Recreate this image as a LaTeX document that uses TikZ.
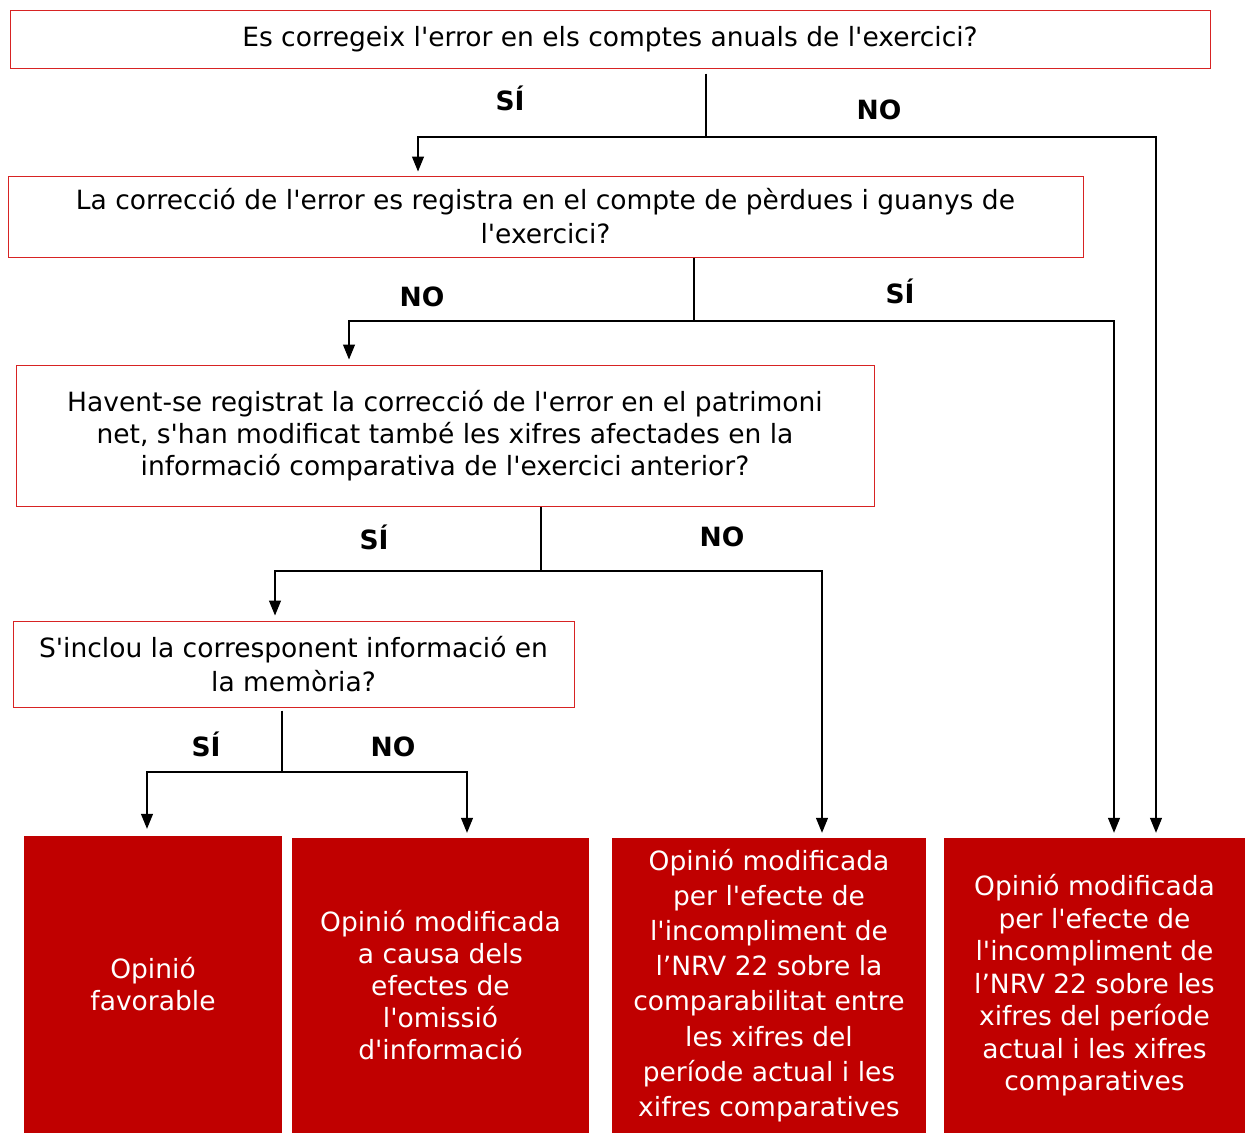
\documentclass[tikz,border=0pt]{standalone}
\usepackage{fontspec}
\setmainfont{DejaVu Sans}[Ligatures=TeXOff]
\usetikzlibrary{arrows.meta, positioning}

\definecolor{boxred}{RGB}{215,35,35}
\definecolor{optred}{RGB}{192,0,0}

\tikzset{
  qbox/.style={draw=boxred, line width=1pt, align=center, inner sep=0pt,
    font=\fontsize{26.5}{32}\selectfont},
  obox/.style={fill=optred, text=white, align=center, inner sep=0pt,
    font=\fontsize{26.5}{32}\selectfont},
  lbl/.style={font=\fontsize{26.5}{30}\selectfont\bfseries, text height=19.3pt, text depth=0pt, inner sep=0pt},
  link/.style={line width=1.2pt},
  arr/.style={link, -{Triangle[length=15pt,width=12pt]}},
}

\begin{document}
\begin{tikzpicture}[x=1pt, y=-1pt]
\useasboundingbox (0,0) rectangle (1245,1133);

% Questions
\node[qbox, minimum width=1200pt, minimum height=58pt] (q1) at (610,39)
  {Es corregeix l'error en els comptes anuals de l'exercici?};
\node[qbox, minimum width=1075pt, minimum height=81pt, font=\fontsize{26.5}{34}\selectfont] (q2) at (545.5,216.5)
  {La correcció de l'error es registra en el compte de pèrdues i guanys de\\ l'exercici?};
\node[qbox, minimum width=858pt, minimum height=141pt] (q3) at (445,435.5)
  {Havent-se registrat la correcció de l'error en el patrimoni\\ net, s'han modificat també les xifres afectades en la\\ informació comparativa de l'exercici anterior?};
\node[qbox, minimum width=561pt, minimum height=86pt, font=\fontsize{26.5}{34}\selectfont] (q4) at (293.5,664)
  {S'inclou la corresponent informació en\\ la memòria?};

% Opinions
\node[obox, minimum width=258pt, minimum height=297pt] (oA) at (153,984.5)
  {Opinió\\ favorable};
\node[obox, minimum width=297pt, minimum height=295pt] (oB) at (440.5,985.5)
  {Opinió modificada\\ a causa dels\\ efectes de\\ l'omissió\\ d'informació};
\node[obox, minimum width=314pt, minimum height=295pt, font=\fontsize{26.5}{35.2}\selectfont] (oC) at (769,985.5)
  {Opinió modificada\\ per l'efecte de\\ l'incompliment de\\ l’NRV 22 sobre la\\ comparabilitat entre\\ les xifres del\\ període actual i les\\ xifres comparatives};
\node[obox, minimum width=301pt, minimum height=295pt, font=\fontsize{26.5}{32.5}\selectfont] (oD) at (1094.5,985.5)
  {Opinió modificada\\ per l'efecte de\\ l'incompliment de\\ l’NRV 22 sobre les\\ xifres del període\\ actual i les xifres\\ comparatives};

% Branch points
\coordinate (j1) at (706,137);
\coordinate (j2) at (694,321);
\coordinate (j3) at (541,571);
\coordinate (j4) at (282,772);

% Connectors
\draw[link] ([yshift=-5pt]q1.south -| j1) -- (j1);
\draw[arr] (j1) -| ([xshift=-127.5pt,yshift=4pt]q2.north);
\draw[arr] (j1) -| ([xshift=61.5pt,yshift=5pt]oD.north);

\draw[link] (q2.south -| j2) -- (j2);
\draw[arr] (j2) -| ([xshift=-96pt,yshift=5pt]q3.north);
\draw[arr] (j2) -| ([xshift=19.5pt,yshift=5pt]oD.north);

\draw[link] (q3.south -| j3) -- (j3);
\draw[arr] (j3) -| ([xshift=-18.5pt,yshift=5pt]q4.north);
\draw[arr] (j3) -| ([xshift=53pt,yshift=5pt]oC.north);

\draw[link] ([yshift=-3pt]q4.south -| j4) -- (j4);
\draw[arr] (j4) -| ([xshift=-6pt,yshift=7pt]oA.north);
\draw[arr] (j4) -| ([xshift=26.5pt,yshift=5pt]oB.north);

% Answers
\node[lbl] (a1) at (510,101) {SÍ};
\node[lbl] (a2) at (879,110) {NO};
\node[lbl] (a3) at (422,297) {NO};
\node[lbl] (a4) at (900,294) {SÍ};
\node[lbl] (a5) at (374,540) {SÍ};
\node[lbl] (a6) at (722,537) {NO};
\node[lbl] (a7) at (206,747) {SÍ};
\node[lbl] (a8) at (393,747) {NO};

\end{tikzpicture}
\end{document}
